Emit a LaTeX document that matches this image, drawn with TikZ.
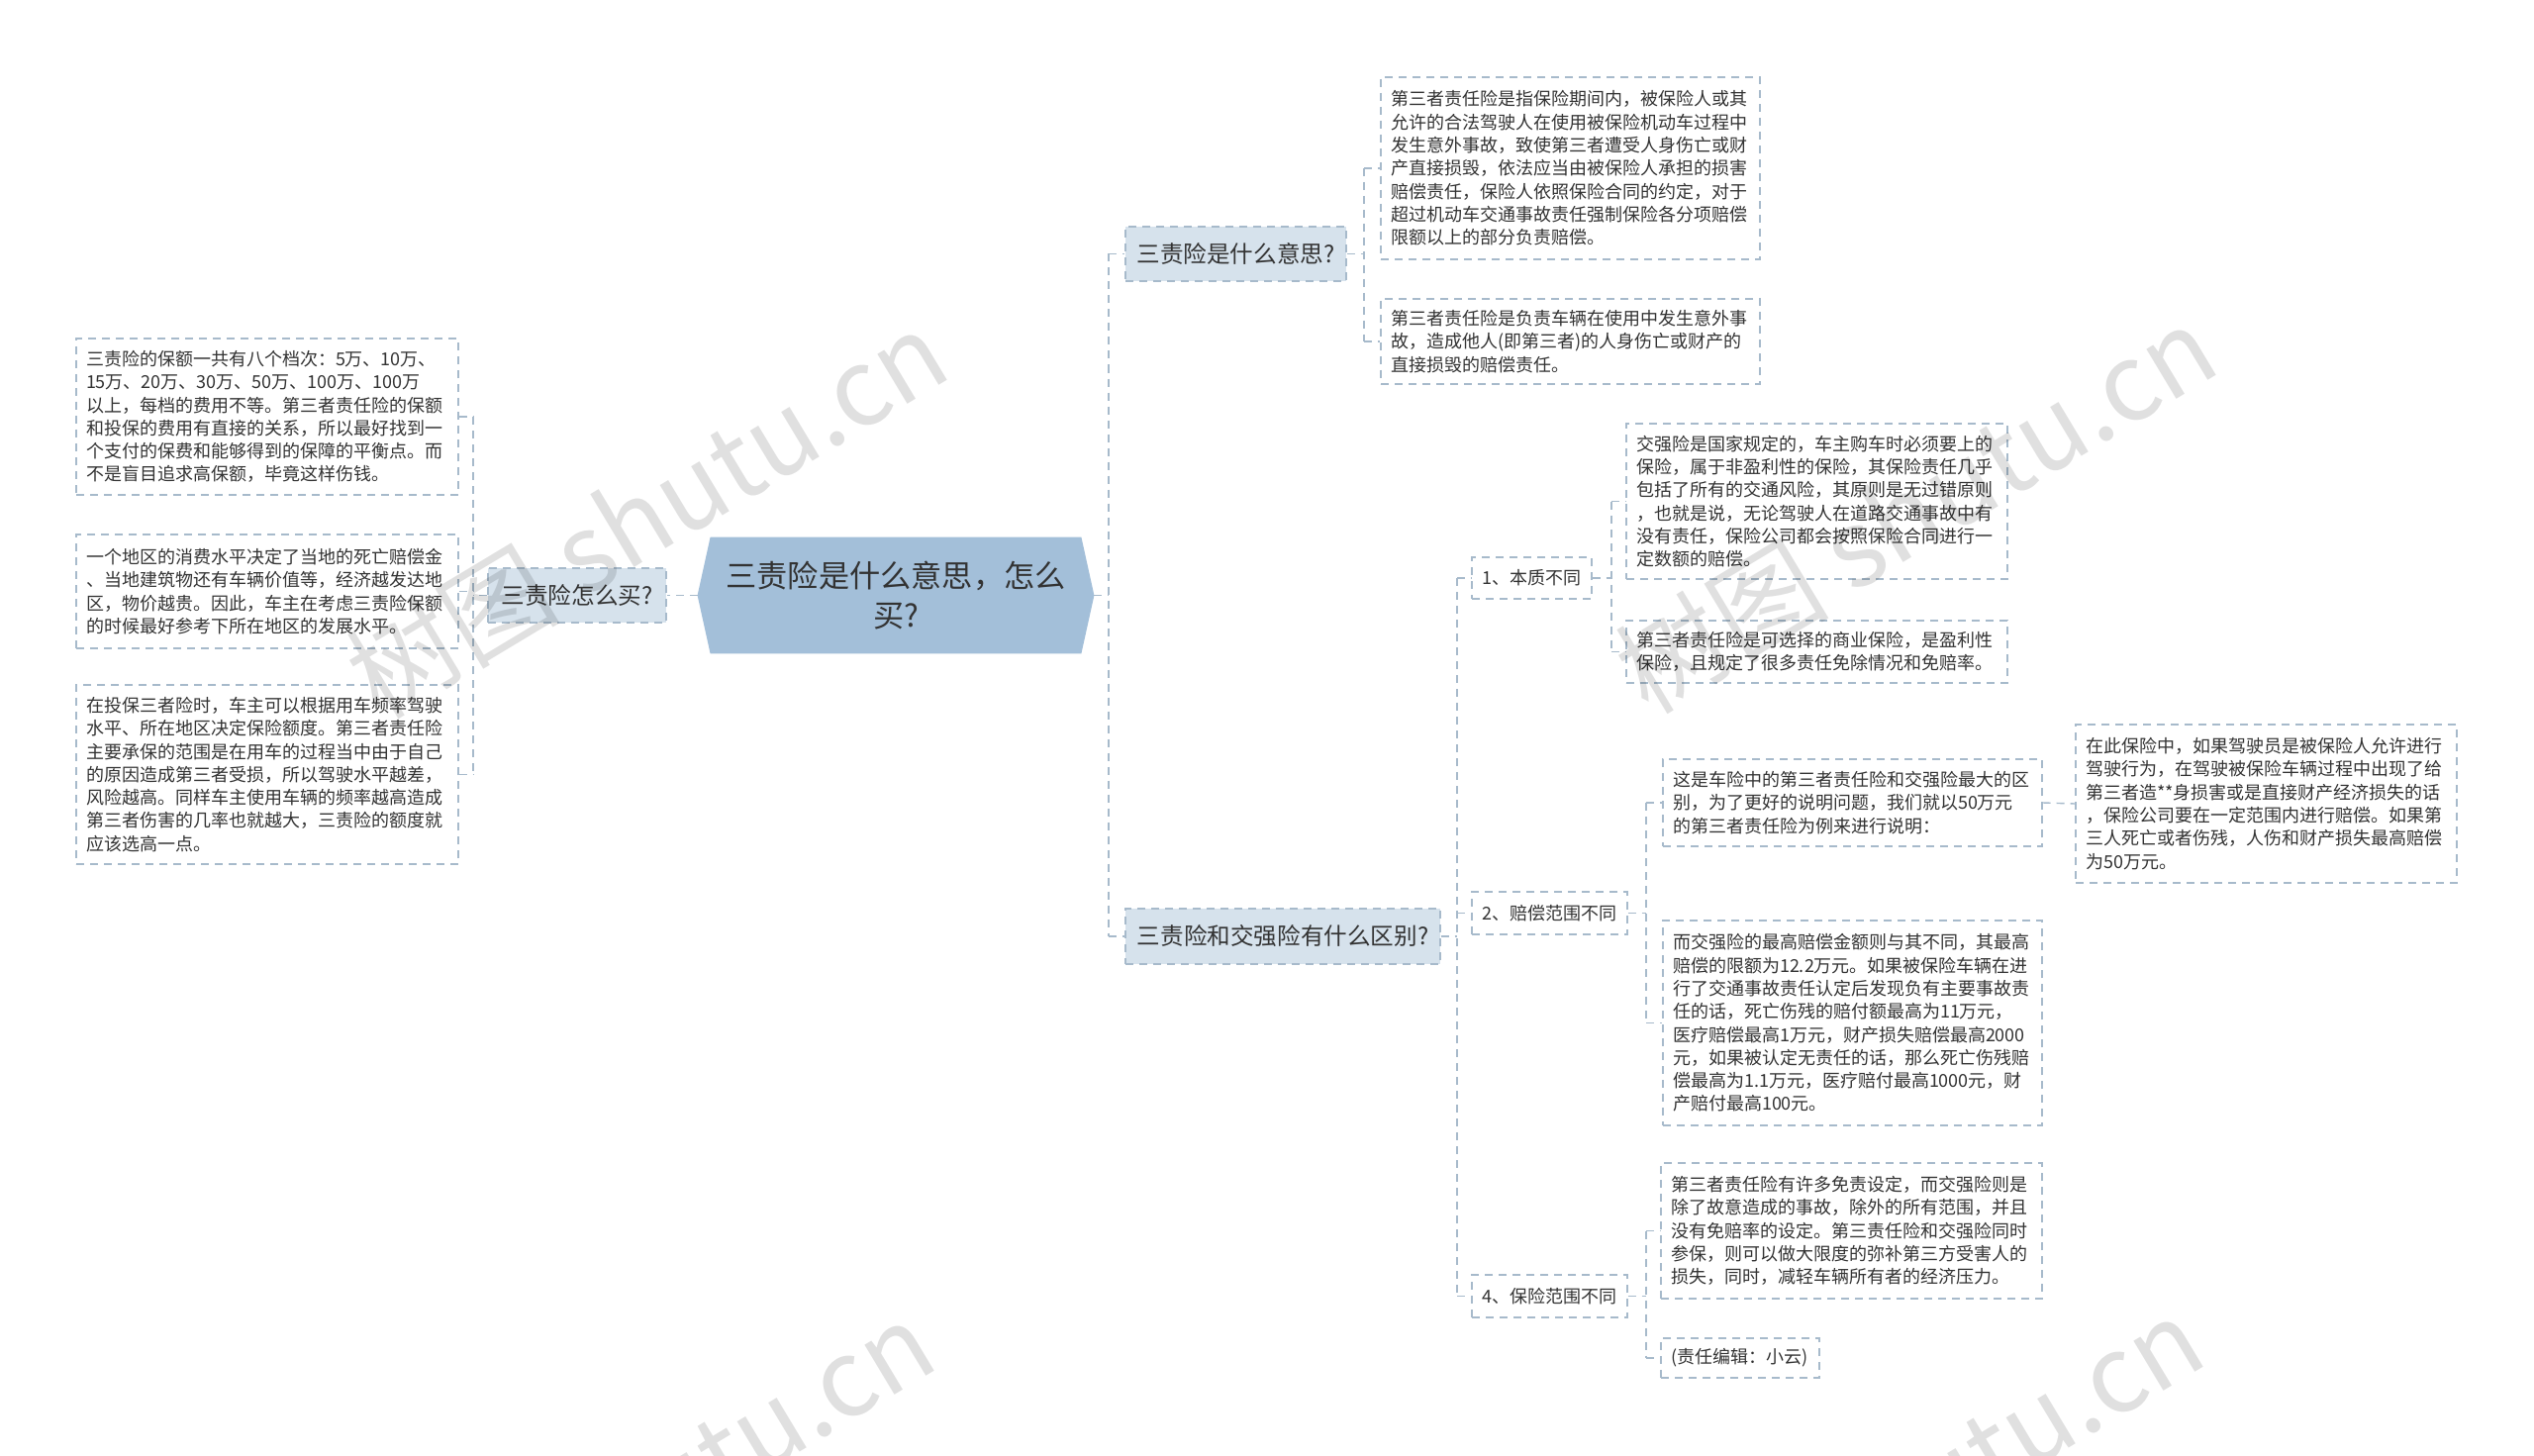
\documentclass[tikz,border=0pt]{standalone}
\usepackage{fontspec}
\setmainfont{Noto Sans CJK SC}
\usetikzlibrary{backgrounds,calc}
\definecolor{txt}{HTML}{333333}
\definecolor{rootfill}{HTML}{A3BFD9}
\definecolor{lonefill}{HTML}{D6E2EC}
\definecolor{edgec}{HTML}{A7BACB}
\tikzset{
  every node/.style={text=txt},
  detail/.style={draw=edgec, dash pattern=on 4pt off 3pt, line width=0.7pt, fill=white,
    align=left, inner xsep=5pt, inner ysep=0pt, font=\fontsize{9}{11.65}\selectfont},
  lone/.style={draw=edgec, dash pattern=on 4pt off 3pt, line width=0.7pt, fill=lonefill,
    align=center, inner xsep=3pt, inner ysep=0pt, font=\fontsize{11.8}{14}\selectfont},
  ltwo/.style={draw=edgec, dash pattern=on 4pt off 3pt, line width=0.7pt, fill=white,
    align=center, inner xsep=2pt, inner ysep=0pt, font=\fontsize{9}{11}\selectfont},
  conn/.style={draw=edgec, line width=0.7pt, dash pattern=on 4pt off 3pt},
  wm/.style={font=\fontsize{54}{54}\selectfont, text=black, text opacity=0.12, rotate=31, inner sep=0pt},
}
% detail box: name, left, top, right, bottom, text
\newcommand\dbox[7][detail]{%
  \pgfmathsetmacro\mybw{(#5-#3)*0.5}%
  \pgfmathsetmacro\mybh{(#6-#4)*0.5}%
  \pgfmathsetmacro\mytw{(#5-#3)*0.5-10}%
  \node[#1, minimum width=\mybw pt, minimum height=\mybh pt, text width=\mytw pt]
    (#2) at ({(#3+#5)/2},{(#4+#6)/2}) {#7};}
% centred box without text width
\newcommand\cbox[7][lone]{%
  \pgfmathsetmacro\mybw{(#5-#3)*0.5}%
  \pgfmathsetmacro\mybh{(#6-#4)*0.5}%
  \node[#1, minimum width=\mybw pt, minimum height=\mybh pt]
    (#2) at ({(#3+#5)/2},{(#4+#6)/2}) {#7};}
\begin{document}
\begin{tikzpicture}[x=0.5pt,y=-0.5pt]
\useasboundingbox (0,0) rectangle (2560,1471);
\clip (0,0) rectangle (2560,1471);

% root
\node[font=\fontsize{15.6}{20}\selectfont, align=center, minimum width=187pt,
  minimum height=58.5pt, inner sep=0pt] (root) at (905,601.5) {三责险是什么意思，怎么\\买?};
\coordinate (rootR) at ($(root.east)+(13,0)$);
\coordinate (rootL) at ($(root.west)+(-13,0)$);
\begin{scope}[on background layer]
\fill[white] (0,0) rectangle (2560,1471);
\fill[rootfill] (root.north west) -- (root.north east) -- (rootR) -- (root.south east)
  -- (root.south west) -- (rootL) -- cycle;
\end{scope}

% level one
\cbox{La}{1137}{229}{1360}{284}{三责险是什么意思?}
\cbox{Lb}{1137}{918}{1455}{974}{三责险和交强险有什么区别?}
\cbox{Lc}{493}{574}{673}{629}{三责险怎么买?}

% left details
\dbox{D1}{77}{342}{463}{500}{三责险的保额一共有八个档次：5万、10万、\\15万、20万、30万、50万、100万、100万\\以上，每档的费用不等。第三者责任险的保额\\和投保的费用有直接的关系，所以最好找到一\\个支付的保费和能够得到的保障的平衡点。而\\不是盲目追求高保额，毕竟这样伤钱。}
\dbox{D2}{77}{540}{463}{655}{一个地区的消费水平决定了当地的死亡赔偿金\\、当地建筑物还有车辆价值等，经济越发达地\\区，物价越贵。因此，车主在考虑三责险保额\\的时候最好参考下所在地区的发展水平。}
\dbox{D3}{77}{692}{463}{873}{在投保三者险时，车主可以根据用车频率驾驶\\水平、所在地区决定保险额度。第三者责任险\\主要承保的范围是在用车的过程当中由于自己\\的原因造成第三者受损，所以驾驶水平越差，\\风险越高。同样车主使用车辆的频率越高造成\\第三者伤害的几率也就越大，三责险的额度就\\应该选高一点。}

% right top details
\dbox{A}{1395}{78}{1778}{262}{第三者责任险是指保险期间内，被保险人或其\\允许的合法驾驶人在使用被保险机动车过程中\\发生意外事故，致使第三者遭受人身伤亡或财\\产直接损毁，依法应当由被保险人承担的损害\\赔偿责任，保险人依照保险合同的约定，对于\\超过机动车交通事故责任强制保险各分项赔偿\\限额以上的部分负责赔偿。}
\dbox{B}{1395}{302}{1778}{388}{第三者责任险是负责车辆在使用中发生意外事\\故，造成他人(即第三者)的人身伤亡或财产的\\直接损毁的赔偿责任。}

% level two
\cbox[ltwo]{N1}{1487}{563}{1608}{605}{1、本质不同}
\cbox[ltwo]{N2}{1487}{901}{1644}{944}{2、赔偿范围不同}
\cbox[ltwo]{N4}{1487}{1288}{1644}{1331}{4、保险范围不同}

\dbox{C}{1643}{428}{2028}{585}{交强险是国家规定的，车主购车时必须要上的\\保险，属于非盈利性的保险，其保险责任几乎\\包括了所有的交通风险，其原则是无过错原则\\，也就是说，无论驾驶人在道路交通事故中有\\没有责任，保险公司都会按照保险合同进行一\\定数额的赔偿。}
\dbox{D}{1643}{627}{2028}{690}{第三者责任险是可选择的商业保险，是盈利性\\保险，且规定了很多责任免除情况和免赔率。}
\dbox{E}{1680}{767}{2063}{855}{这是车险中的第三者责任险和交强险最大的区\\别，为了更好的说明问题，我们就以50万元\\的第三者责任险为例来进行说明：}
\dbox{F}{1680}{930}{2063}{1137}{而交强险的最高赔偿金额则与其不同，其最高\\赔偿的限额为12.2万元。如果被保险车辆在进\\行了交通事故责任认定后发现负有主要事故责\\任的话，死亡伤残的赔付额最高为11万元，\\医疗赔偿最高1万元，财产损失赔偿最高2000\\元，如果被认定无责任的话，那么死亡伤残赔\\偿最高为1.1万元，医疗赔付最高1000元，财\\产赔付最高100元。}
\dbox{G}{2097}{732}{2482}{892}{在此保险中，如果驾驶员是被保险人允许进行\\驾驶行为，在驾驶被保险车辆过程中出现了给\\第三者造**身损害或是直接财产经济损失的话\\，保险公司要在一定范围内进行赔偿。如果第\\三人死亡或者伤残，人伤和财产损失最高赔偿\\为50万元。}
\dbox{H}{1678}{1175}{2063}{1312}{第三者责任险有许多免责设定，而交强险则是\\除了故意造成的事故，除外的所有范围，并且\\没有免赔率的设定。第三责任险和交强险同时\\参保，则可以做大限度的弥补第三方受害人的\\损失，同时，减轻车辆所有者的经济压力。}
\dbox{I}{1678}{1352}{1838}{1392}{(责任编辑：小云)}

% junction columns
\coordinate (v0) at (1120,0);
\coordinate (vL) at (478,0);
\coordinate (vA) at (1378,0);
\coordinate (vN) at (1472,0);
\coordinate (v1) at (1628,0);
\coordinate (v2) at (1663,0);
\coordinate (v4) at (1663,0);

% root to right
\draw[conn] (rootR) -- (rootR -| v0);
\draw[conn] (La.west -| v0) -- (Lb.west -| v0);
\draw[conn] (La.west -| v0) -- (La.west);
\draw[conn] (Lb.west -| v0) -- (Lb.west);
% root to left
\draw[conn] (rootL) -- (Lc.east);
\draw[conn] (Lc.west) -- (Lc.west -| vL);
\draw[conn] (D1.east -| vL) -- (D3.east -| vL);
\draw[conn] (D1.east) -- (D1.east -| vL);
\draw[conn] (D2.east) -- (D2.east -| vL);
\draw[conn] (D3.east) -- (D3.east -| vL);
% La children
\draw[conn] (La.east) -- (La.east -| vA);
\draw[conn] (A.west -| vA) -- (B.west -| vA);
\draw[conn] (A.west -| vA) -- (A.west);
\draw[conn] (B.west -| vA) -- (B.west);
% Lb children
\draw[conn] (Lb.east) -- (Lb.east -| vN);
\draw[conn] (N1.west -| vN) -- (N4.west -| vN);
\draw[conn] (N1.west -| vN) -- (N1.west);
\draw[conn] (N2.west -| vN) -- (N2.west);
\draw[conn] (N4.west -| vN) -- (N4.west);
% N1 children
\draw[conn] (N1.east) -- (N1.east -| v1);
\draw[conn] (C.west -| v1) -- (D.west -| v1);
\draw[conn] (C.west -| v1) -- (C.west);
\draw[conn] (D.west -| v1) -- (D.west);
% N2 children
\draw[conn] (N2.east) -- (N2.east -| v2);
\draw[conn] (E.west -| v2) -- (F.west -| v2);
\draw[conn] (E.west -| v2) -- (E.west);
\draw[conn] (F.west -| v2) -- (F.west);
% E child
\draw[conn] (E.east) -- (G.west);
% N4 children
\draw[conn] (N4.east) -- (N4.east -| v4);
\draw[conn] (H.west -| v4) -- (I.west -| v4);
\draw[conn] (H.west -| v4) -- (H.west);
\draw[conn] (I.west -| v4) -- (I.west);

% watermarks
\node[wm] (wm1) at (653,519) {树图 shutu.cn};
\node[wm] (wm2) at (1935,514) {树图 shutu.cn};
\node[wm] (wm3) at (640,1520) {树图 shutu.cn};
\node[wm] (wm4) at (1922,1516) {树图 shutu.cn};
\end{tikzpicture}
\end{document}
